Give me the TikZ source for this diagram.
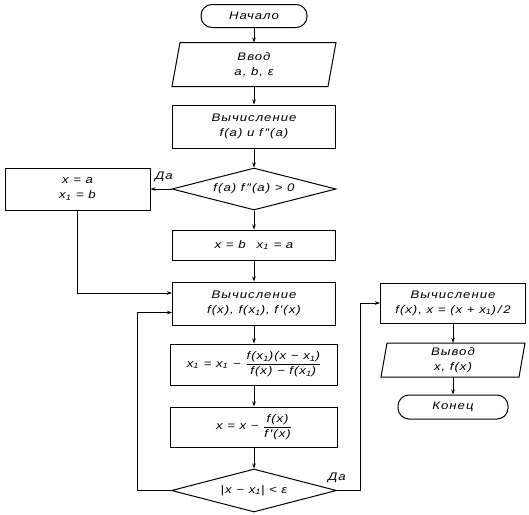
\documentclass[tikz,border=0pt]{standalone}
\usepackage{fontspec}
\usepackage{amsmath}
\setmainfont{Liberation Sans}[FakeStretch=1.2, LetterSpace=9]
\usetikzlibrary{arrows.meta,shapes.geometric,calc}
\begin{document}
\begin{tikzpicture}[x=1pt,y=-1pt, line width=1pt,
  >={Stealth[length=5pt,width=3.5pt]},
  every node/.style={font=\itshape\fontsize{11}{15}\selectfont},
  box/.style={draw, rectangle, inner sep=0pt, align=center},
  term/.style={draw, rectangle, rounded corners=11pt, inner sep=0pt},
  io/.style={inner sep=0pt, align=center},
  dec/.style={draw, diamond, aspect=3.9, inner sep=0pt, align=center},
  lbl/.style={inner sep=0pt}
]
\useasboundingbox (0,0) rectangle (529,514);
% main column
\node[term, minimum width=106, minimum height=23] (start) at (254,16) {Начало};
\node[io, minimum width=163, minimum height=43] (in) at (254,64.5) {Ввод\\a, b, ε};
\draw ($(in.north west)+(8,0)$) -- (in.north east) -- ($(in.south east)+(-8,0)$) -- (in.south west) -- cycle;
\node[box, minimum width=163, minimum height=43] (c1) at (254,126.5) {Вычисление\\f(a) и f\,″(a)};
\node[dec, minimum width=164, minimum height=42] (d1) at (254,189) {f(a) f\,″(a) > 0};
\node[box, minimum width=145, minimum height=42] (lb) at (77.5,189) {x = a\\x\textsubscript{1} = b};
\node[box, minimum width=163, minimum height=30] (xb) at (254,245) {x = b\quad x\textsubscript{1} = a};
\node[box, minimum width=163, minimum height=43] (c2) at (254,303.5) {Вычисление\\f(x), f(x\textsubscript{1}), f\,′(x)};
\node[box, minimum width=167, minimum height=41] (x1) at (254,364.5) {x\textsubscript{1} = x\textsubscript{1} − $\dfrac{\text{f(x\textsubscript{1})(x − x\textsubscript{1})}}{\text{f(x) − f(x\textsubscript{1})}}$};
\node[box, minimum width=167, minimum height=40] (xx) at (254,427) {x = x − $\dfrac{\text{f(x)}}{\text{f\,′(x)}}$};
\node[dec, minimum width=165, minimum height=43] (d2) at (254,490.5) {|x − x\textsubscript{1}| < ε};
% right column
\node[box, minimum width=145, minimum height=40] (rb) at (453,303) {Вычисление\\f(x), x = (x + x\textsubscript{1})\,/\,2};
\node[io, minimum width=143, minimum height=33] (out) at (453,360) {Вывод\\x, f(x)};
\draw ($(out.north west)+(6,0)$) -- (out.north east) -- ($(out.south east)+(-6,0)$) -- (out.south west) -- cycle;
\node[term, minimum width=110, minimum height=24] (end) at (453,407) {Конец};
% connectors
\draw[->] (start) -- (in);
\draw[->] (in) -- (c1);
\draw[->] (c1) -- (d1);
\draw[->] (d1) -- (xb);
\draw[->] (d1.west) -- (lb.east);
\node[lbl] (da1) at (164,177) {Да};
\draw[->] (lb.south) |- ($(c2.west)+(0,-10.5)$);
\draw[->] (xb) -- (c2);
\draw[->] (c2) -- (x1);
\draw[->] (x1) -- (xx);
\draw[->] (xx) -- (d2);
\draw[->] (d2.west) -- ++(-34,0) |- ($(c2.west)+(0,9)$);
\draw[->] (d2.east) -- ++(23,0) |- (rb.west);
\node[lbl] (da2) at (337,478) {Да};
\draw[->] (rb) -- (out);
\draw[->] (out) -- (end);
\end{tikzpicture}
\end{document}
